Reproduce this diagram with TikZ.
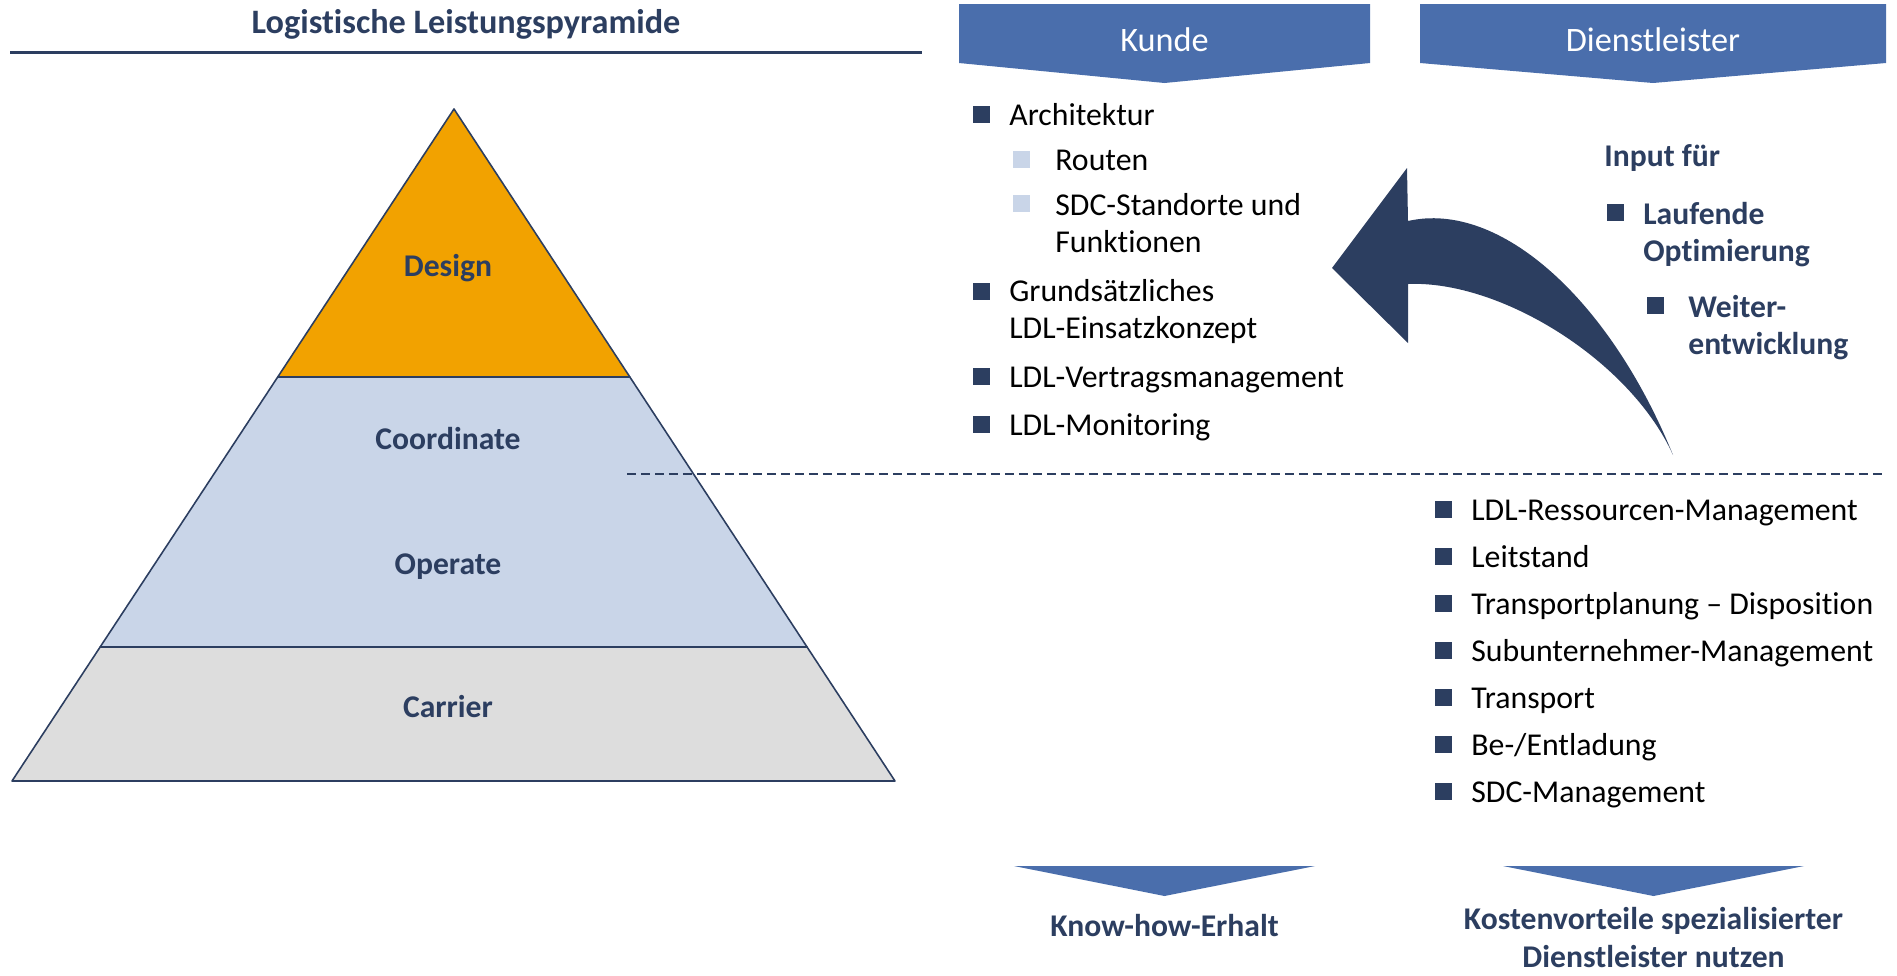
\documentclass[tikz,border=0pt]{standalone}
\usepackage{fontspec}
\setmainfont{Carlito}[Ligatures={NoCommon}]
\usepackage{tikz}
\usetikzlibrary{positioning, calc}

\definecolor{navy}{RGB}{44,62,96}
\definecolor{bannerblue}{RGB}{74,110,172}
\definecolor{designorange}{RGB}{242,162,0}
\definecolor{paleblue}{RGB}{201,213,232}
\definecolor{carriergrey}{RGB}{221,221,221}

\tikzset{
  title/.style={anchor=base, inner sep=0pt, text=navy, font=\fontsize{19.5}{23}\selectfont\bfseries},
  layer/.style={draw=navy, line width=0.9pt, line join=round},
  level/.style={anchor=base, inner sep=0pt, text=navy, font=\fontsize{18}{21}\selectfont\bfseries},
  banner/.style={fill=bannerblue},
  bannertext/.style={anchor=base, inner sep=0pt, text=white, font=\fontsize{19.5}{23}\selectfont},
  item/.style={anchor=base west, inner sep=0pt, align=left, font=\fontsize{18.1}{21}\selectfont},
  boldnote/.style={anchor=base west, inner sep=0pt, align=left, text=navy, font=\fontsize{18}{21}\selectfont\bfseries},
  result/.style={anchor=base, inner sep=0pt, align=center, text=navy, font=\fontsize{18}{21.5}\selectfont\bfseries},
  sq/.style={rectangle, fill=navy, minimum size=0.34cm, inner sep=0pt},
  sqlight/.style={sq, fill=paleblue},
  divider/.style={draw=navy, line width=0.85pt, dash pattern=on 0.18cm off 0.1cm}
}

\begin{document}
\begin{tikzpicture}[x=0.02cm, y=-0.02cm]
\useasboundingbox (0,0) rectangle (1897,975);

% Title
\node[title] (title) at (466,33) {Logistische Leistungspyramide};
\coordinate (ruleL) at (10,52);
\coordinate (ruleR) at (922,52);
\draw[navy, line width=1.7pt] (ruleL) -- (ruleR);

% Pyramid corners
\coordinate (apex) at (454,109);
\coordinate (bl) at (12,781);
\coordinate (br) at (895,781);
\coordinate (dl) at ($(apex)!0.3988!(bl)$);
\coordinate (dr) at ($(apex)!0.3988!(br)$);
\coordinate (cl) at ($(apex)!0.8006!(bl)$);
\coordinate (cr) at ($(apex)!0.8006!(br)$);

% Layers
\draw[layer, fill=designorange] (apex) -- (dr) -- (dl) -- cycle;
\draw[layer, fill=paleblue] (dl) -- (dr) -- (cr) -- (cl) -- cycle;
\draw[layer, fill=carriergrey] (cl) -- (cr) -- (br) -- (bl) -- cycle;

\node[level] (design) at (448,276) {Design};
\node[level] (coord) at (448,449) {Coordinate};
\node[level] (operate) at (448,574) {Operate};
\node[level] (carrier) at (448,717) {Carrier};

% Divider
\coordinate (cutL) at (627,474);
\coordinate (cutR) at (1885,474);
\draw[divider] (cutL) -- (cutR);

% Banners on top
\fill[banner] (959,4) -- (1370,4) -- (1370,63) -- (1164.5,83) -- (959,63) -- cycle;
\node[bannertext] (kunde) at (1164.5,51) {Kunde};
\fill[banner] (1420,4) -- (1886,4) -- (1886,63) -- (1653,83) -- (1420,63) -- cycle;
\node[bannertext] (dienst) at (1653,51) {Dienstleister};

% Customer tasks (multi-line nodes sit on their last baseline)
\node[sq] (bA) at (981,114) {};
\node[item] (arch) at (1009,125) {Architektur};
\node[sqlight] (bR) at (1021,159) {};
\node[item] (routen) at (1055,170) {Routen};
\node[sqlight] (bS) at (1021,203) {};
\node[item] (sdc) at (1055,252) {SDC-Standorte und\\Funktionen};
\node[sq] (bG) at (981,291) {};
\node[item] (grund) at (1009,338) {Grundsätzliches\\LDL-Einsatzkonzept};
\node[sq] (bV) at (981,376) {};
\node[item] (vertrag) at (1009,387) {LDL-Vertragsmanagement};
\node[sq] (bM) at (981,424) {};
\node[item] (monitor) at (1009,435) {LDL-Monitoring};

% Curved feedback arrow
\fill[navy] (1332,268) -- (1407,168) -- (1408,221)
  .. controls (1500,200) and (1610,300) .. (1673,455)
  .. controls (1630,360) and (1500,280) .. (1408,284)
  -- (1408,343) -- cycle;

% Input from provider
\node[boldnote] (input) at (1604,166) {Input für};
\node[sq] (bL) at (1615,212) {};
\node[boldnote] (laufend) at (1643,261) {Laufende\\Optimierung};
\node[sq] (bW) at (1655,305) {};
\node[boldnote] (weiter) at (1688,354) {Weiter-\\entwicklung};

% Provider tasks
\node[sq] (b1) at (1443,509) {};
\node[item] (ress) at (1471,520) {LDL-Ressourcen-Management};
\node[sq] (b2) at (1443,556) {};
\node[item] (leit) at (1471,567) {Leitstand};
\node[sq] (b3) at (1443,603) {};
\node[item] (plan) at (1471,614) {Transportplanung – Disposition};
\node[sq] (b4) at (1443,650) {};
\node[item] (sub) at (1471,661) {Subunternehmer-Management};
\node[sq] (b5) at (1443,697) {};
\node[item] (trans) at (1471,708) {Transport};
\node[sq] (b6) at (1443,744) {};
\node[item] (ent) at (1471,755) {Be-/Entladung};
\node[sq] (b7) at (1443,791) {};
\node[item] (sdcm) at (1471,802) {SDC-Management};

% Results at the bottom
\fill[banner] (1014,866) -- (1315,866) -- (1164.5,896) -- cycle;
\node[result] (knowhow) at (1164.5,936) {Know-how-Erhalt};
\fill[banner] (1503,866) -- (1804,866) -- (1653.5,896) -- cycle;
\node[result] (kosten) at (1653.5,967) {Kostenvorteile spezialisierter\\Dienstleister nutzen};

\end{tikzpicture}
\end{document}
